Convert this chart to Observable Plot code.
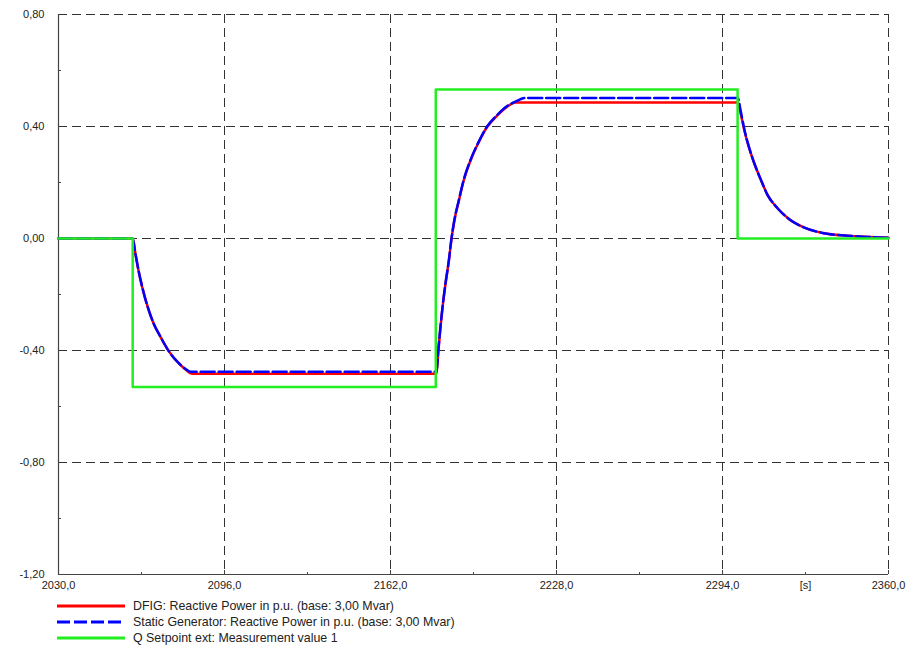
<!DOCTYPE html>
<html><head><meta charset="utf-8">
<script src="https://cdn.jsdelivr.net/npm/d3@7"></script>
<script src="https://cdn.jsdelivr.net/npm/@observablehq/plot@0.6"></script>
<style>
body{margin:0;background:#fff;font-family:"Liberation Sans",Arial,sans-serif;}
#legend{padding-left:57px;font-size:12.4px;color:#222;}
.row{display:flex;align-items:center;height:16px;white-space:nowrap;}
.row svg{margin-right:8px;}
</style></head><body>
<div id="chart"></div>
<div id="legend"></div>
<script>
// ---- data ----
const xTicksMajor = [2030, 2096, 2162, 2228, 2294, 2360];
const xTicksMinor = [2063, 2129, 2195, 2261, 2327];
const xUnitTick = 2327;            // position of the "[s]" unit label
const yTicksMajor = [-1.2, -0.8, -0.4, 0, 0.4, 0.8];
const yTicksMinor = [-1.0, -0.6, -0.2, 0.2, 0.6];
const xGrid = [2096, 2162, 2228, 2294, 2360];
const yGrid = [-0.8, -0.4, 0, 0.4, 0.8];

const seriesNames = [
  "DFIG: Reactive Power in p.u. (base: 3,00 Mvar)",
  "Static Generator: Reactive Power in p.u. (base: 3,00 Mvar)",
  "Q Setpoint ext: Measurement value 1"
];
const seriesColors = ["#ff0000", "#0000ff", "#22ee22"];

// Q setpoint (step signal)
const setT = [2030, 2059.5, 2059.5, 2180, 2180, 2300, 2300, 2360];
const setQ = [0, 0, -0.53, -0.53, 0.532, 0.532, 0, 0];

// DFIG reactive power
const dfigT = [2030, 2059.5, 2060.6, 2061.9, 2063.3, 2065.9, 2067.9, 2070.6, 2073.9, 2077.8, 2080.5, 2083.2,
  2180.3, 2181.0, 2181.9, 2182.9, 2183.9, 2185.2, 2186.2, 2187.4, 2189.2, 2191.1, 2194.1, 2197.1, 2200.4, 2204.4, 2208.4, 2211.7,
  2300.1, 2301.2, 2302.7, 2304.5, 2306.7, 2309.1, 2312.0, 2315.7, 2320.4, 2326.3, 2334.3, 2343.6, 2360];
const dfigQ = [0, 0, -0.055, -0.118, -0.174, -0.257, -0.305, -0.352, -0.403, -0.445, -0.468, -0.483,
  -0.483, -0.405, -0.315, -0.230, -0.160, -0.080, -0.005, 0.064, 0.136, 0.207, 0.285, 0.344, 0.398, 0.439, 0.471, 0.486,
  0.486, 0.447, 0.386, 0.326, 0.267, 0.213, 0.154, 0.110, 0.070, 0.040, 0.019, 0.010, 0.003];

// Static generator reactive power
const sgT = [2030, 2059.5, 2060.6, 2061.9, 2063.3, 2065.9, 2067.9, 2070.6, 2073.9, 2077.8, 2080.5, 2082.5,
  2180.3, 2181.0, 2181.9, 2182.9, 2183.9, 2185.2, 2186.2, 2187.4, 2189.2, 2191.1, 2194.1, 2197.1, 2200.4, 2204.4, 2208.4, 2211.7, 2215.7,
  2300.1, 2301.2, 2302.7, 2304.5, 2306.7, 2309.1, 2312.0, 2315.7, 2320.4, 2326.3, 2334.3, 2343.6, 2360];
const sgQ = [0, 0, -0.055, -0.118, -0.174, -0.257, -0.305, -0.352, -0.403, -0.445, -0.466, -0.476,
  -0.476, -0.400, -0.312, -0.228, -0.158, -0.078, -0.003, 0.066, 0.138, 0.209, 0.287, 0.346, 0.400, 0.441, 0.473, 0.489, 0.502,
  0.502, 0.457, 0.389, 0.327, 0.267, 0.213, 0.154, 0.110, 0.070, 0.040, 0.019, 0.010, 0.003];

// ---- build ----
const zip = (T, Q) => T.map((t, i) => ({t, q: Q[i]}));
const setData = zip(setT, setQ), dfigData = zip(dfigT, dfigQ), sgData = zip(sgT, sgQ);
const fmtX = d => d === xUnitTick ? "[s]" : d.toFixed(1).replace(".", ",");
const fmtY = d => d.toFixed(2).replace(".", ",");
const dash = "9,5", gridColor = "#333", axisColor = "#444";

const chart = Plot.plot({
  width: 918, height: 598,
  marginLeft: 58, marginRight: 30, marginTop: 14, marginBottom: 24,
  style: {fontFamily: "'Liberation Sans', Arial, sans-serif", fontSize: "11px", color: "#222", background: "#fff"},
  x: {domain: [2030, 2360], label: null},
  y: {domain: [-1.2, 0.8], label: null},
  marks: [
    Plot.ruleY(yGrid, {stroke: gridColor, strokeDasharray: dash, strokeWidth: 1}),
    Plot.ruleX(xGrid, {stroke: gridColor, strokeDasharray: dash, strokeWidth: 1}),
    Plot.ruleX([xTicksMajor[0]], {stroke: axisColor, strokeWidth: 1.2}),
    Plot.ruleY([yTicksMajor[0]], {stroke: axisColor, strokeWidth: 1.2}),
    Plot.axisY(yTicksMajor, {tickSize: 0, tickPadding: 14, tickFormat: fmtY, label: null}),
    Plot.axisY(yTicksMinor, {tickSize: -3, stroke: axisColor, tickFormat: () => "", label: null}),
    Plot.axisX(xTicksMajor.concat([xUnitTick]), {tickSize: 0, tickPadding: 7, tickFormat: fmtX, label: null}),
    Plot.axisX(xTicksMajor, {tickSize: -4, stroke: axisColor, tickFormat: () => "", label: null}),
    Plot.axisX(xTicksMinor, {tickSize: -2, stroke: axisColor, tickFormat: () => "", label: null}),
    Plot.line(dfigData, {x: "t", y: "q", stroke: seriesColors[0], strokeWidth: 2.5, curve: "monotone-x"}),
    Plot.line(sgData, {x: "t", y: "q", stroke: seriesColors[1], strokeWidth: 2.5, strokeDasharray: "14,4", curve: "monotone-x"}),
    Plot.line(setData, {x: "t", y: "q", stroke: seriesColors[2], strokeWidth: 2.5})
  ]
});
document.getElementById("chart").appendChild(chart);

// legend
const legend = document.getElementById("legend");
seriesNames.forEach((name, i) => {
  const row = document.createElement("div");
  row.className = "row";
  const da = i === 1 ? ' stroke-dasharray="13,4"' : "";
  row.innerHTML = `<svg width="68" height="6"><line x1="0" y1="3" x2="68" y2="3" stroke="${seriesColors[i]}" stroke-width="3"${da}/></svg><span>${name}</span>`;
  legend.appendChild(row);
});
</script>
</body></html>
